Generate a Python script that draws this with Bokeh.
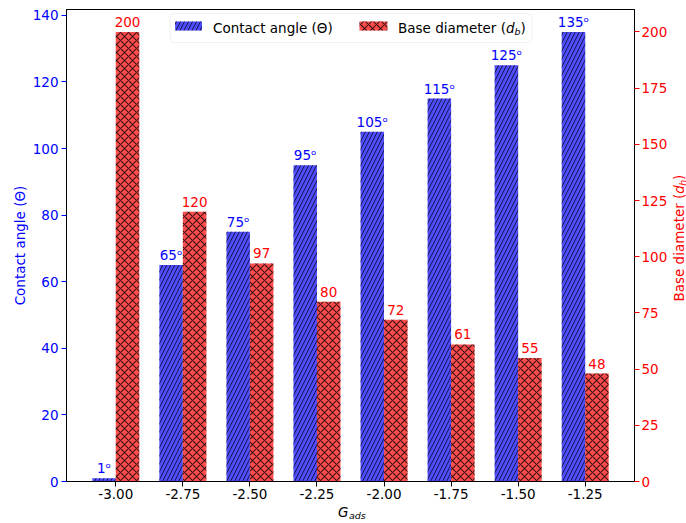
import math
from bokeh.plotting import figure
from bokeh.layouts import column, row
from bokeh.models import (Range1d, LinearAxis, FixedTicker, SingleIntervalTicker,
                          Label, BoxAnnotation, ColumnDataSource)
from bokeh.embed import file_html
from bokeh.resources import INLINE
from bokeh.core.properties import value

# ---------------- data ----------------
g_ads_labels = ["-3.00", "-2.75", "-2.50", "-2.25", "-2.00", "-1.75", "-1.50", "-1.25"]
contact_angle = [1, 65, 75, 95, 105, 115, 125, 135]
base_diameter = [200, 120, 97, 80, 72, 61, 55, 48]

# ---------------- style ----------------
FONT = "DejaVu Sans"
FS = "13.5px"
SUB = "9.5px"
BLUE_FILL = "#4d4dff"
RED_FILL = "#ff4d4d"
BLUE_TXT = "blue"
RED_TXT = "red"
bar_w = 0.35

# page geometry (pixels)
TOTAL_W, TOTAL_H = 686, 523
MAIN_W, MAIN_H = 670, 505
FL, FR, FT, FB = 66, 636, 9, 481

positions = list(range(len(g_ads_labels)))
lo, hi = positions[0] - bar_w, positions[-1] + bar_w
pad = 0.05 * (hi - lo)
X0, X1 = lo - pad, hi + pad
Y1 = max(contact_angle) * 1.05
Y1R = max(base_diameter) * 1.05


def bare(fig):
    fig.xaxis.visible = False
    fig.yaxis.visible = False
    fig.xgrid.visible = False
    fig.ygrid.visible = False
    fig.outline_line_color = None
    fig.background_fill_color = "white"
    fig.border_fill_color = "white"


p = figure(width=MAIN_W, height=MAIN_H, output_backend="svg", toolbar_location=None,
           x_range=Range1d(X0, X1), y_range=Range1d(0, Y1),
           min_border_left=FL, min_border_right=MAIN_W - FR,
           min_border_top=FT, min_border_bottom=MAIN_H - FB)
p.extra_y_ranges = {"right": Range1d(0, Y1R)}
p.background_fill_color = "white"
p.border_fill_color = "white"
p.outline_line_color = "black"
p.outline_line_width = 1
p.xgrid.grid_line_color = None
p.ygrid.grid_line_color = None

# label centre 10 px above each bar, in each axis' data units
gap_l = 10 * Y1 / (FB - FT)
gap_r = 10 * Y1R / (FB - FT)

# ---------------- bars ----------------
src_a = ColumnDataSource(dict(x=[i - bar_w / 2 for i in positions], top=contact_angle,
                              ly=[v + gap_l for v in contact_angle],
                              label=[f"{v}\u1d52" for v in contact_angle]))
src_b = ColumnDataSource(dict(x=[i + bar_w / 2 for i in positions], top=base_diameter,
                              ly=[v + gap_r for v in base_diameter],
                              label=[str(v) for v in base_diameter]))

BLUE_HATCH = dict(hatch_pattern="/", hatch_color="black", hatch_alpha=0.7,
                  hatch_scale=8, hatch_weight=1)
RED_HATCH = dict(hatch_pattern="x", hatch_color="black", hatch_alpha=0.75,
                 hatch_scale=8, hatch_weight=1.1)

p.vbar(x="x", top="top", width=bar_w, source=src_a, fill_color=BLUE_FILL, line_color=None,
       **BLUE_HATCH)
p.vbar(x="x", top="top", width=bar_w, source=src_b, y_range_name="right",
       fill_color=RED_FILL, line_color=None, **RED_HATCH)

p.text(x="x", y="ly", text="label", source=src_a, text_align="center",
       text_baseline="middle", text_color=BLUE_TXT,
       text_font=value(FONT), text_font_size=FS)
p.text(x="x", y="ly", text="label", source=src_b, y_range_name="right", text_align="center",
       text_baseline="middle", text_color=RED_TXT,
       text_font=value(FONT), text_font_size=FS)

# ---------------- axes ----------------
def style_axis(ax, color, tick_color):
    ax.axis_line_color = "black"
    ax.major_tick_line_color = tick_color
    ax.major_tick_out = 5
    ax.major_tick_in = 0
    ax.minor_tick_line_color = None
    ax.major_label_text_color = color
    ax.major_label_text_font = FONT
    ax.major_label_text_font_size = FS
    ax.axis_label_text_color = color
    ax.axis_label_text_font = FONT
    ax.axis_label_text_font_size = FS
    ax.axis_label_text_font_style = "normal"

xa = p.xaxis[0]
xa.ticker = FixedTicker(ticks=positions)
xa.major_label_overrides = {i: lab for i, lab in zip(positions, g_ads_labels)}
style_axis(xa, "black", "black")
xa.major_label_standoff = 2

ya = p.yaxis[0]
ya.ticker = SingleIntervalTicker(interval=20)
ya.axis_label = "Contact angle (\u0398)"
style_axis(ya, BLUE_TXT, BLUE_TXT)
ya.major_label_standoff = 3
ya.axis_label_standoff = 2

yr = LinearAxis(y_range_name="right", ticker=SingleIntervalTicker(interval=25))
style_axis(yr, RED_TXT, RED_TXT)
yr.major_label_standoff = 2
p.add_layout(yr, "right")

# ---------------- helpers: page-pixel -> data ----------------
def rx(px):
    return X0 + (px - FL) / (FR - FL) * (X1 - X0)

def ry(py):
    return (FB - py) / (FB - FT) * Y1

# ---------------- legend ----------------
p.add_layout(BoxAnnotation(left=rx(170), right=rx(533), top=ry(13), bottom=ry(42),
                           fill_color="white", fill_alpha=0.8, line_color="#cccccc",
                           line_width=1, border_radius=4))
p.add_layout(BoxAnnotation(left=rx(175), right=rx(202), top=ry(21), bottom=ry(30),
                           fill_color=BLUE_FILL, fill_alpha=1, line_color=None, **BLUE_HATCH))
p.add_layout(BoxAnnotation(left=rx(360), right=rx(388), top=ry(21), bottom=ry(30),
                           fill_color=RED_FILL, fill_alpha=1, line_color=None, **RED_HATCH))
LEG_Y = 27
p.add_layout(Label(x=rx(213), y=ry(LEG_Y), text="Contact angle (\u0398)", text_align="left",
                   text_baseline="middle", text_font=FONT, text_font_size=FS,
                   text_color="black"))
p.add_layout(Label(x=rx(507), y=ry(LEG_Y), text="Base diameter (", text_align="right",
                   text_baseline="middle", text_font=FONT, text_font_size=FS,
                   text_color="black"))
p.add_layout(Label(x=rx(507), y=ry(LEG_Y), text="d", text_align="left",
                   text_baseline="middle", text_font=FONT, text_font_size=FS,
                   text_font_style="italic", text_color="black"))
p.add_layout(Label(x=rx(515.5), y=ry(LEG_Y + 4), text="b", text_align="left",
                   text_baseline="middle", text_font=FONT, text_font_size=SUB,
                   text_font_style="italic", text_color="black"))
p.add_layout(Label(x=rx(521.5), y=ry(LEG_Y), text=")", text_align="left",
                   text_baseline="middle", text_font=FONT, text_font_size=FS,
                   text_color="black"))

# ---------------- right strip: rotated axis title "Base diameter (d_h)" ----------------
r = figure(width=TOTAL_W - MAIN_W, height=MAIN_H, output_backend="svg", toolbar_location=None,
           x_range=Range1d(MAIN_W, TOTAL_W), y_range=Range1d(MAIN_H, 0),
           min_border=0, min_border_left=0, min_border_right=0,
           min_border_top=0, min_border_bottom=0)
bare(r)
RX = 678
DY = 197  # where the italic d starts (text runs upward)
rot = dict(angle=math.pi / 2, text_baseline="middle", text_font=value(FONT), text_color=RED_TXT)
r.text(x=[RX], y=[DY], text=["Base diameter ("], text_align="right", text_font_size=FS, **rot)
r.text(x=[RX], y=[DY], text=["d"], text_align="left", text_font_size=FS,
       text_font_style="italic", **rot)
r.text(x=[RX + 3.5], y=[DY - 8.5], text=["h"], text_align="left", text_font_size=SUB,
       text_font_style="italic", **rot)
r.text(x=[RX], y=[DY - 14.5], text=[")"], text_align="left", text_font_size=FS, **rot)

# ---------------- bottom strip: x-axis title G_ads ----------------
q = figure(width=TOTAL_W, height=TOTAL_H - MAIN_H, output_backend="svg", toolbar_location=None,
           x_range=Range1d(0, TOTAL_W), y_range=Range1d(TOTAL_H, MAIN_H),
           min_border=0, min_border_left=0, min_border_right=0,
           min_border_top=0, min_border_bottom=0)
bare(q)
q.text(x=[348], y=[511], text=["G"], text_align="right", text_baseline="middle",
       text_font=value(FONT), text_font_size=FS, text_font_style="italic", text_color="black")
q.text(x=[348.5], y=[514.5], text=["ads"], text_align="left", text_baseline="middle",
       text_font=value(FONT), text_font_size=SUB, text_font_style="italic", text_color="black")

layout = column(row(p, r, spacing=0), q, spacing=0)
open("out.html", "w").write(file_html(layout, INLINE))
